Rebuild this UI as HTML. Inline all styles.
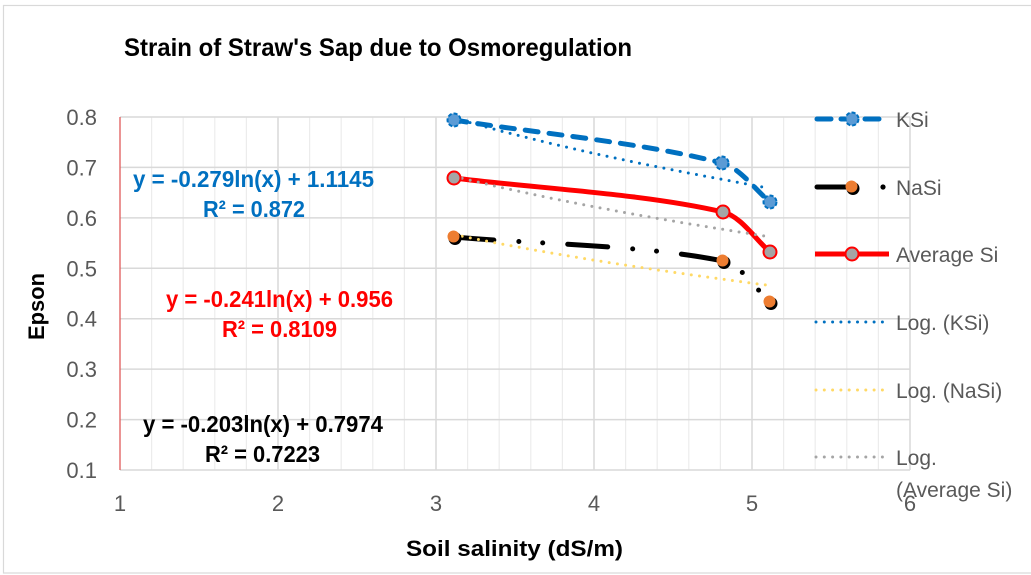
<!DOCTYPE html>
<html><head><meta charset="utf-8"><style>
html,body{margin:0;padding:0;background:#fff;}
svg{display:block;}
text{font-family:"Liberation Sans",Arial,sans-serif;}
</style></head><body>
<svg width="1031" height="575" viewBox="0 0 1031 575" xmlns="http://www.w3.org/2000/svg">
<rect x="0" y="0" width="1031" height="575" fill="#fff"/>
<rect x="3.5" y="5.5" width="1040" height="567.5" fill="none" stroke="#d9d9d9" stroke-width="1.2"/>

<!-- minor vertical gridlines -->
<g stroke="#ececec" stroke-width="1.2">
<line x1="151.6" y1="117" x2="151.6" y2="470"/><line x1="183.2" y1="117" x2="183.2" y2="470"/><line x1="214.8" y1="117" x2="214.8" y2="470"/><line x1="246.4" y1="117" x2="246.4" y2="470"/>
<line x1="309.6" y1="117" x2="309.6" y2="470"/><line x1="341.2" y1="117" x2="341.2" y2="470"/><line x1="372.8" y1="117" x2="372.8" y2="470"/><line x1="404.4" y1="117" x2="404.4" y2="470"/>
<line x1="467.6" y1="117" x2="467.6" y2="470"/><line x1="499.2" y1="117" x2="499.2" y2="470"/><line x1="530.8" y1="117" x2="530.8" y2="470"/><line x1="562.4" y1="117" x2="562.4" y2="470"/>
<line x1="625.6" y1="117" x2="625.6" y2="470"/><line x1="657.2" y1="117" x2="657.2" y2="470"/><line x1="688.8" y1="117" x2="688.8" y2="470"/><line x1="720.4" y1="117" x2="720.4" y2="470"/>
<line x1="783.6" y1="117" x2="783.6" y2="470"/><line x1="815.2" y1="117" x2="815.2" y2="470"/><line x1="846.8" y1="117" x2="846.8" y2="470"/><line x1="878.4" y1="117" x2="878.4" y2="470"/>
</g>
<!-- major gridlines -->
<g stroke="#d9d9d9" stroke-width="1.5">
<line x1="278" y1="117" x2="278" y2="470"/><line x1="436" y1="117" x2="436" y2="470"/><line x1="594" y1="117" x2="594" y2="470"/><line x1="752" y1="117" x2="752" y2="470"/><line x1="910" y1="117" x2="910" y2="470"/>
<line x1="120" y1="117" x2="910" y2="117"/><line x1="120" y1="167.4" x2="910" y2="167.4"/><line x1="120" y1="217.9" x2="910" y2="217.9"/><line x1="120" y1="268.3" x2="910" y2="268.3"/>
<line x1="120" y1="318.7" x2="910" y2="318.7"/><line x1="120" y1="369.1" x2="910" y2="369.1"/><line x1="120" y1="419.6" x2="910" y2="419.6"/><line x1="120" y1="470" x2="910" y2="470"/>
</g>
<line x1="120" y1="117" x2="120" y2="470" stroke="#e05a5a" stroke-width="1.3"/>

<!-- Title -->
<text x="124" y="56" font-size="25" font-weight="bold" fill="#000" textLength="508" lengthAdjust="spacingAndGlyphs">Strain of Straw's Sap due to Osmoregulation</text>

<!-- Y tick labels -->
<g font-size="22" fill="#595959" text-anchor="end">
<text x="97" y="125">0.8</text><text x="97" y="175.4">0.7</text><text x="97" y="225.9">0.6</text><text x="97" y="276.3">0.5</text>
<text x="97" y="326.7">0.4</text><text x="97" y="377.1">0.3</text><text x="97" y="427.6">0.2</text><text x="97" y="478">0.1</text>
</g>
<!-- X tick labels -->
<g font-size="22" fill="#595959" text-anchor="middle">
<text x="120" y="511">1</text><text x="278" y="511">2</text><text x="436" y="511">3</text><text x="594" y="511">4</text><text x="752" y="511">5</text><text x="910" y="511">6</text>
</g>

<!-- Axis titles -->
<text x="406" y="556" font-size="22" font-weight="bold" fill="#000" textLength="217" lengthAdjust="spacingAndGlyphs">Soil salinity (dS/m)</text>
<text transform="translate(44,340) rotate(-90)" x="0" y="0" font-size="22" font-weight="bold" fill="#000" textLength="67" lengthAdjust="spacingAndGlyphs">Epson</text>

<!-- Equations -->
<g font-size="23" font-weight="bold">
<text x="133" y="187" fill="#0070C0" textLength="241" lengthAdjust="spacingAndGlyphs">y = -0.279ln(x) + 1.1145</text>
<text x="203" y="217" fill="#0070C0" textLength="102" lengthAdjust="spacingAndGlyphs">R² = 0.872</text>
<text x="166" y="307" fill="#FF0000" textLength="227" lengthAdjust="spacingAndGlyphs">y = -0.241ln(x) + 0.956</text>
<text x="222" y="337" fill="#FF0000" textLength="115" lengthAdjust="spacingAndGlyphs">R² = 0.8109</text>
<text x="143" y="432" fill="#000" textLength="240" lengthAdjust="spacingAndGlyphs">y = -0.203ln(x) + 0.7974</text>
<text x="205" y="462" fill="#000" textLength="115" lengthAdjust="spacingAndGlyphs">R² = 0.7223</text>
</g>

<!-- Series lines -->
<path d="M454,120 C534.4,132.9 643.2,142.6 722,163 C739.9,167.7 755.6,190.3 770,202" fill="none" stroke="#0070C0" stroke-width="5" stroke-dasharray="13 11" stroke-linecap="round"/>
<path d="M454,178 C534.7,188.2 643.8,193.5 723,212 C741,216.2 755.9,240 770,252" fill="none" stroke="#FF0000" stroke-width="5"/>
<path d="M454,237 C534.7,244.2 643.6,244.7 723,261 C741.3,264.8 755.9,289.7 770,302" fill="none" stroke="#000" stroke-width="5" stroke-dasharray="40 25 0 24 0 25" stroke-linecap="round"/>

<!-- Trendlines -->
<polyline points="454,118.2 499.2,130.6 546.6,142.5 594,153.5 641.4,163.6 688.8,173.1 736.2,182 768,188" fill="none" stroke="#0070C0" stroke-width="3" stroke-dasharray="0 8.3" stroke-linecap="round"/>
<polyline points="454,234.6 499.2,243.6 546.6,252.2 594,260.2 641.4,267.6 688.8,274.5 736.2,281 768,285.3" fill="none" stroke="#FFD966" stroke-width="3" stroke-dasharray="0 8.3" stroke-linecap="round"/>
<polyline points="454,176.4 499.2,187.1 546.6,197.3 594,206.8 641.4,215.6 688.8,223.8 736.2,231.5 768,236.6" fill="none" stroke="#A5A5A5" stroke-width="3" stroke-dasharray="0 8.3" stroke-linecap="round"/>

<!-- Markers -->
<g fill="#5B9BD5" stroke="#0070C0" stroke-width="2" stroke-dasharray="4 2">
<circle cx="454" cy="120" r="6.5"/><circle cx="722" cy="163" r="6.5"/><circle cx="770" cy="202" r="6.5"/>
</g>
<g fill="#A5A5A5" stroke="#FF0000" stroke-width="2">
<circle cx="454" cy="178" r="6.5"/><circle cx="723" cy="212" r="6.5"/><circle cx="770" cy="252" r="6.5"/>
</g>
<g>
<circle cx="455" cy="238.5" r="6.5" fill="#000"/><circle cx="724" cy="262.5" r="6.5" fill="#000"/><circle cx="771" cy="303.5" r="6.5" fill="#000"/>
<circle cx="453.5" cy="236.5" r="6" fill="#ED7D31"/><circle cx="722.5" cy="260.5" r="6" fill="#ED7D31"/><circle cx="769.5" cy="301.5" r="6" fill="#ED7D31"/>
</g>

<!-- Legend -->
<g>
<line x1="817" y1="119" x2="831" y2="119" stroke="#0070C0" stroke-width="5" stroke-linecap="round"/>
<line x1="841" y1="119" x2="845" y2="119" stroke="#0070C0" stroke-width="5" stroke-linecap="round"/>
<line x1="865" y1="119" x2="879" y2="119" stroke="#0070C0" stroke-width="5" stroke-linecap="round"/>
<circle cx="852" cy="119" r="6.5" fill="#5B9BD5" stroke="#0070C0" stroke-width="2" stroke-dasharray="4 2"/>

<line x1="817" y1="187" x2="850" y2="187" stroke="#000" stroke-width="5" stroke-linecap="round"/>
<circle cx="853" cy="188.5" r="6.5" fill="#000"/>
<circle cx="851.5" cy="186.5" r="6" fill="#ED7D31"/>
<circle cx="883" cy="187" r="2.6" fill="#000"/>

<line x1="815" y1="254" x2="889" y2="254" stroke="#FF0000" stroke-width="5"/>
<circle cx="852" cy="254" r="6.5" fill="#A5A5A5" stroke="#FF0000" stroke-width="2"/>

<line x1="816" y1="322" x2="888" y2="322" stroke="#0070C0" stroke-width="3" stroke-dasharray="0 8.3" stroke-linecap="round"/>
<line x1="816" y1="390" x2="888" y2="390" stroke="#FFD966" stroke-width="3" stroke-dasharray="0 8.3" stroke-linecap="round"/>
<line x1="816" y1="457" x2="888" y2="457" stroke="#A5A5A5" stroke-width="3" stroke-dasharray="0 8.3" stroke-linecap="round"/>
</g>
<g font-size="21" fill="#595959">
<text x="896" y="127">KSi</text>
<text x="896" y="195">NaSi</text>
<text x="896" y="262">Average Si</text>
<text x="896" y="330">Log. (KSi)</text>
<text x="896" y="398">Log. (NaSi)</text>
<text x="896" y="465">Log.</text>
<text x="896" y="497">(Average Si)</text>
</g>
</svg>
</body></html>
